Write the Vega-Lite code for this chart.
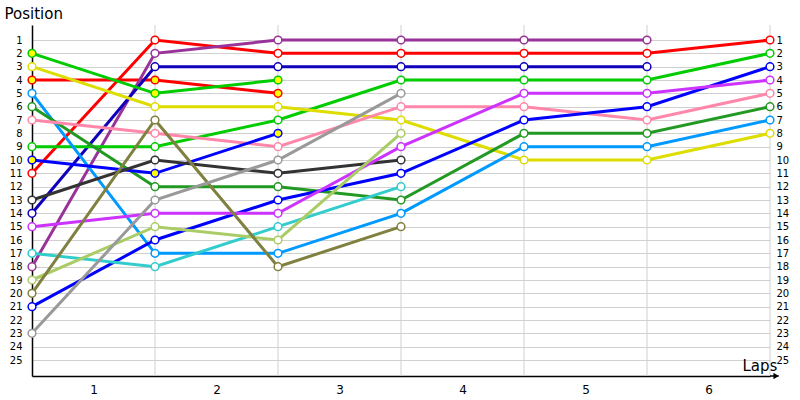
{
  "$schema": "https://vega.github.io/schema/vega-lite/v6.json",
  "width": 738,
  "height": 351,
  "autosize": "none",
  "padding": {"left": 32, "top": 25, "right": 30, "bottom": 24},
  "background": "white",
  "config": {"view": {"stroke": null}, "font": "DejaVu Sans"},
  "datasets": {
    "races": [
      {"d": "red1", "lap": 0, "pos": 11}, {"d": "red1", "lap": 1, "pos": 1}, {"d": "red1", "lap": 2, "pos": 2}, {"d": "red1", "lap": 3, "pos": 2}, {"d": "red1", "lap": 4, "pos": 2}, {"d": "red1", "lap": 5, "pos": 2}, {"d": "red1", "lap": 6, "pos": 1},
      {"d": "red2", "lap": 0, "pos": 4}, {"d": "red2", "lap": 1, "pos": 4}, {"d": "red2", "lap": 2, "pos": 5},
      {"d": "purple", "lap": 0, "pos": 18}, {"d": "purple", "lap": 1, "pos": 2}, {"d": "purple", "lap": 2, "pos": 1}, {"d": "purple", "lap": 3, "pos": 1}, {"d": "purple", "lap": 4, "pos": 1}, {"d": "purple", "lap": 5, "pos": 1},
      {"d": "dkblue", "lap": 0, "pos": 14}, {"d": "dkblue", "lap": 1, "pos": 3}, {"d": "dkblue", "lap": 2, "pos": 3}, {"d": "dkblue", "lap": 3, "pos": 3}, {"d": "dkblue", "lap": 4, "pos": 3}, {"d": "dkblue", "lap": 5, "pos": 3},
      {"d": "green1", "lap": 0, "pos": 2}, {"d": "green1", "lap": 1, "pos": 5}, {"d": "green1", "lap": 2, "pos": 4},
      {"d": "green2", "lap": 0, "pos": 9}, {"d": "green2", "lap": 1, "pos": 9}, {"d": "green2", "lap": 2, "pos": 7}, {"d": "green2", "lap": 3, "pos": 4}, {"d": "green2", "lap": 4, "pos": 4}, {"d": "green2", "lap": 5, "pos": 4}, {"d": "green2", "lap": 6, "pos": 2},
      {"d": "yellow", "lap": 0, "pos": 3}, {"d": "yellow", "lap": 1, "pos": 6}, {"d": "yellow", "lap": 2, "pos": 6}, {"d": "yellow", "lap": 3, "pos": 7}, {"d": "yellow", "lap": 4, "pos": 10}, {"d": "yellow", "lap": 5, "pos": 10}, {"d": "yellow", "lap": 6, "pos": 8},
      {"d": "ltblue", "lap": 0, "pos": 5}, {"d": "ltblue", "lap": 1, "pos": 17}, {"d": "ltblue", "lap": 2, "pos": 17}, {"d": "ltblue", "lap": 3, "pos": 14}, {"d": "ltblue", "lap": 4, "pos": 9}, {"d": "ltblue", "lap": 5, "pos": 9}, {"d": "ltblue", "lap": 6, "pos": 7},
      {"d": "dkgreen", "lap": 0, "pos": 6}, {"d": "dkgreen", "lap": 1, "pos": 12}, {"d": "dkgreen", "lap": 2, "pos": 12}, {"d": "dkgreen", "lap": 3, "pos": 13}, {"d": "dkgreen", "lap": 4, "pos": 8}, {"d": "dkgreen", "lap": 5, "pos": 8}, {"d": "dkgreen", "lap": 6, "pos": 6},
      {"d": "pink", "lap": 0, "pos": 7}, {"d": "pink", "lap": 1, "pos": 8}, {"d": "pink", "lap": 2, "pos": 9}, {"d": "pink", "lap": 3, "pos": 6}, {"d": "pink", "lap": 4, "pos": 6}, {"d": "pink", "lap": 5, "pos": 7}, {"d": "pink", "lap": 6, "pos": 5},
      {"d": "blue1", "lap": 0, "pos": 10}, {"d": "blue1", "lap": 1, "pos": 11}, {"d": "blue1", "lap": 2, "pos": 8},
      {"d": "dark", "lap": 0, "pos": 13}, {"d": "dark", "lap": 1, "pos": 10}, {"d": "dark", "lap": 2, "pos": 11}, {"d": "dark", "lap": 3, "pos": 10},
      {"d": "blue2", "lap": 0, "pos": 21}, {"d": "blue2", "lap": 1, "pos": 16}, {"d": "blue2", "lap": 2, "pos": 13}, {"d": "blue2", "lap": 3, "pos": 11}, {"d": "blue2", "lap": 4, "pos": 7}, {"d": "blue2", "lap": 5, "pos": 6}, {"d": "blue2", "lap": 6, "pos": 3},
      {"d": "violet", "lap": 0, "pos": 15}, {"d": "violet", "lap": 1, "pos": 14}, {"d": "violet", "lap": 2, "pos": 14}, {"d": "violet", "lap": 3, "pos": 9}, {"d": "violet", "lap": 4, "pos": 5}, {"d": "violet", "lap": 5, "pos": 5}, {"d": "violet", "lap": 6, "pos": 4},
      {"d": "turq", "lap": 0, "pos": 17}, {"d": "turq", "lap": 1, "pos": 18}, {"d": "turq", "lap": 2, "pos": 15}, {"d": "turq", "lap": 3, "pos": 12},
      {"d": "ltolive", "lap": 0, "pos": 19}, {"d": "ltolive", "lap": 1, "pos": 15}, {"d": "ltolive", "lap": 2, "pos": 16}, {"d": "ltolive", "lap": 3, "pos": 8},
      {"d": "olive", "lap": 0, "pos": 20}, {"d": "olive", "lap": 1, "pos": 7}, {"d": "olive", "lap": 2, "pos": 18}, {"d": "olive", "lap": 3, "pos": 15},
      {"d": "gray", "lap": 0, "pos": 23}, {"d": "gray", "lap": 1, "pos": 13}, {"d": "gray", "lap": 2, "pos": 10}, {"d": "gray", "lap": 3, "pos": 5}
    ],
    "grid": [{"lap": 1}, {"lap": 2}, {"lap": 3}, {"lap": 4}, {"lap": 5}, {"lap": 6}]
  },
  "layer": [
    {
      "data": {"name": "grid"},
      "mark": {"type": "rule", "color": "#d0d0d0", "strokeWidth": 1},
      "encoding": {
        "x": {"field": "lap", "type": "quantitative", "scale": {"domain": [0, 6], "nice": false, "zero": false},
          "axis": {"values": [0.5, 1.5, 2.5, 3.5, 4.5, 5.5], "labelExpr": "datum.value + 0.5", "ticks": false, "grid": false,
            "domainColor": "black", "domainWidth": 1.5, "labelFontSize": 12, "labelColor": "black", "labelPadding": 8,
            "title": "Laps", "titleFontSize": 15, "titleFontWeight": "normal", "titleColor": "black",
            "titleX": 710, "titleY": -3, "titleAlign": "left", "titleBaseline": "bottom"}}
      }
    },
    {
      "data": {"name": "races"},
      "mark": {"type": "line", "strokeWidth": 3},
      "encoding": {
        "x": {"field": "lap", "type": "quantitative"},
        "y": {"field": "pos", "type": "quantitative", "scale": {"domain": [-0.125, 26.2], "reverse": true, "nice": false, "zero": false},
          "axis": {"values": [1,2,3,4,5,6,7,8,9,10,11,12,13,14,15,16,17,18,19,20,21,22,23,24,25], "ticks": false, "grid": true,
            "gridColor": "#d0d0d0", "gridWidth": 1, "domainColor": "black", "domainWidth": 1.5, "labelFontSize": 10,
            "labelColor": "black", "labelPadding": 10,
            "title": "Position", "titleAngle": 0, "titleFontSize": 15, "titleFontWeight": "normal", "titleColor": "black",
            "titleX": -28, "titleY": -4, "titleAlign": "left", "titleBaseline": "bottom"}},
        "color": {"field": "d", "type": "nominal", "legend": null,
          "scale": {
            "domain": ["red1", "red2", "purple", "dkblue", "green1", "green2", "yellow", "ltblue", "dkgreen", "pink", "blue1", "dark", "blue2", "violet", "turq", "ltolive", "olive", "gray"],
            "range": ["#ff0000", "#ff0000", "#993399", "#1100bb", "#00cc00", "#00cc00", "#dddd00", "#0099ff", "#229922", "#ff88aa", "#0000ff", "#333333", "#0000ff", "#cc33ff", "#33cccc", "#aacc66", "#808040", "#999999"]
          }},
        "detail": {"field": "d"}
      }
    },
    {
      "data": {"values": [{"a": 6, "b": 6.07}]},
      "mark": {"type": "rule", "color": "black", "strokeWidth": 1.5},
      "encoding": {
        "x": {"field": "a", "type": "quantitative"},
        "x2": {"field": "b"},
        "y": {"datum": 26.2, "type": "quantitative", "axis": null}
      }
    },
    {
      "data": {"values": [{"a": 6.05}]},
      "mark": {"type": "point", "shape": "triangle-right", "filled": true, "color": "black", "size": 40, "opacity": 1},
      "encoding": {
        "x": {"field": "a", "type": "quantitative"},
        "y": {"datum": 26.2, "type": "quantitative", "axis": null}
      }
    },
    {
      "data": {"name": "races"},
      "mark": {"type": "point", "shape": "circle", "filled": false, "size": 60, "strokeWidth": 1.5, "opacity": 1},
      "encoding": {
        "x": {"field": "lap", "type": "quantitative"},
        "y": {"field": "pos", "type": "quantitative", "axis": null},
        "stroke": {"field": "d", "type": "nominal", "legend": null,
          "scale": {
            "domain": ["red1", "red2", "purple", "dkblue", "green1", "green2", "yellow", "ltblue", "dkgreen", "pink", "blue1", "dark", "blue2", "violet", "turq", "ltolive", "olive", "gray"],
            "range": ["#ff0000", "#ff0000", "#993399", "#1100bb", "#00cc00", "#00cc00", "#dddd00", "#0099ff", "#229922", "#ff88aa", "#0000ff", "#333333", "#0000ff", "#cc33ff", "#33cccc", "#aacc66", "#808040", "#999999"]
          }},
        "fill": {"condition": {"test": "indexof(['red2','green1','blue1'], datum.d) >= 0", "value": "#ffff00"}, "value": "white"}
      }
    },
    {
      "data": {"name": "races"},
      "mark": {"type": "text", "opacity": 0},
      "encoding": {
        "x": {"field": "lap", "type": "quantitative"},
        "y": {"field": "pos", "type": "quantitative",
          "axis": {"orient": "right", "values": [1,2,3,4,5,6,7,8,9,10,11,12,13,14,15,16,17,18,19,20,21,22,23,24,25], "ticks": false, "grid": false,
            "domain": false, "labelFontSize": 10, "labelColor": "black", "labelPadding": 6, "title": null}}
      }
    }
  ],
  "resolve": {"axis": {"y": "independent"}}
}
